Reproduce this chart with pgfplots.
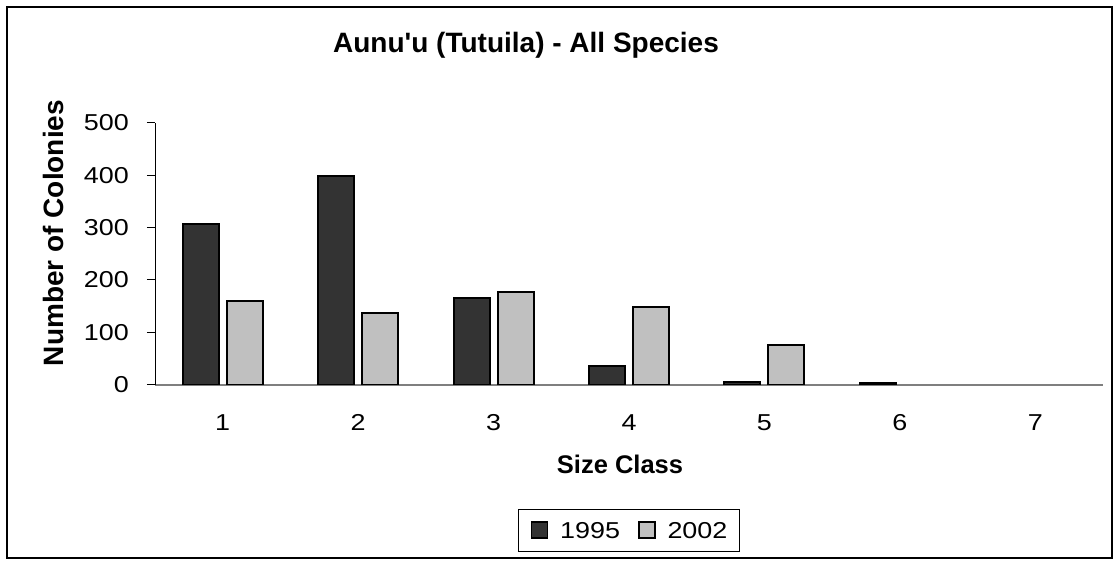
\documentclass[border=0pt]{standalone}
\usepackage{fontspec}
\setmainfont{Liberation Sans}[Ligatures=TeXOff]
\newfontfamily\tickfont{Liberation Sans}[Ligatures=TeXOff, FakeStretch=1.17]
\usepackage{pgfplots}
\pgfplotsset{compat=1.18}
\definecolor{darkbar}{HTML}{333333}
\definecolor{lightbar}{HTML}{C0C0C0}
\definecolor{axgray}{HTML}{7F7F7F}
\begin{document}
\begin{tikzpicture}[x=1pt,y=1pt]
\path[use as bounding box] (0,0) rectangle (1117,560);
\draw[line width=1.2pt] (7,2) rectangle (1112,553);
\node[font=\bfseries\fontsize{28}{32}\selectfont] at (526,515) {Aunu'u (Tutuila) - All Species};
\node[font=\bfseries\fontsize{25.5}{30}\selectfont] at (620,96) {Size Class};
\node[font=\bfseries\fontsize{28}{32}\selectfont, rotate=90] at (53,327) {Number of Colonies};
\begin{axis}[
  at={(155pt,175.3pt)}, anchor=south west,
  width=948pt, height=262pt, scale only axis,
  xmin=0.5, xmax=7.5, ymin=0, ymax=500,
  ybar, bar width=36pt,
  axis x line*=bottom, axis y line*=left,
  x axis line style={-, draw=axgray, line width=1.8pt},
  y axis line style={-, draw=black, line width=1pt},
  xtick={1,2,3,4,5,6,7}, ytick={0,100,200,300,400,500},
  tick align=outside, major tick length=8pt,
  xtick style={draw=none},
  ytick style={draw=black, line width=1pt},
  /pgf/number format/assume math mode=true,
  ticklabel style={font=\tickfont\fontsize{23}{27}\selectfont},
  yticklabel style={anchor=east, inner sep=0pt, xshift=-18pt},
  xticklabel style={anchor=base, inner sep=0pt, yshift=-37.6pt},
  legend style={at={(0.5,-0.558)}, anchor=center, draw=black, line width=1pt,
    legend columns=2, font=\tickfont\fontsize{23}{27}\selectfont,
    inner xsep=12pt, inner ysep=11.5pt,
    nodes={inner sep=0pt},
    /tikz/every odd column/.append style={column sep=11.7pt},
    /tikz/every even column/.append style={column sep=18pt}},
  legend image code/.code={\draw[#1, line width=1.8pt] (0pt,-6.5pt) rectangle (16pt,9.5pt);},
]
\addplot[fill=darkbar, draw=black, line width=2pt, bar shift=-22pt]
  coordinates {(1,306) (2,398) (3,165) (4,36) (5,6) (6,4)};
\addplot[fill=lightbar, draw=black, line width=2pt, bar shift=22pt]
  coordinates {(1,159) (2,136) (3,176) (4,148) (5,76)};
\legend{1995,2002}
\end{axis}
\end{tikzpicture}
\end{document}
